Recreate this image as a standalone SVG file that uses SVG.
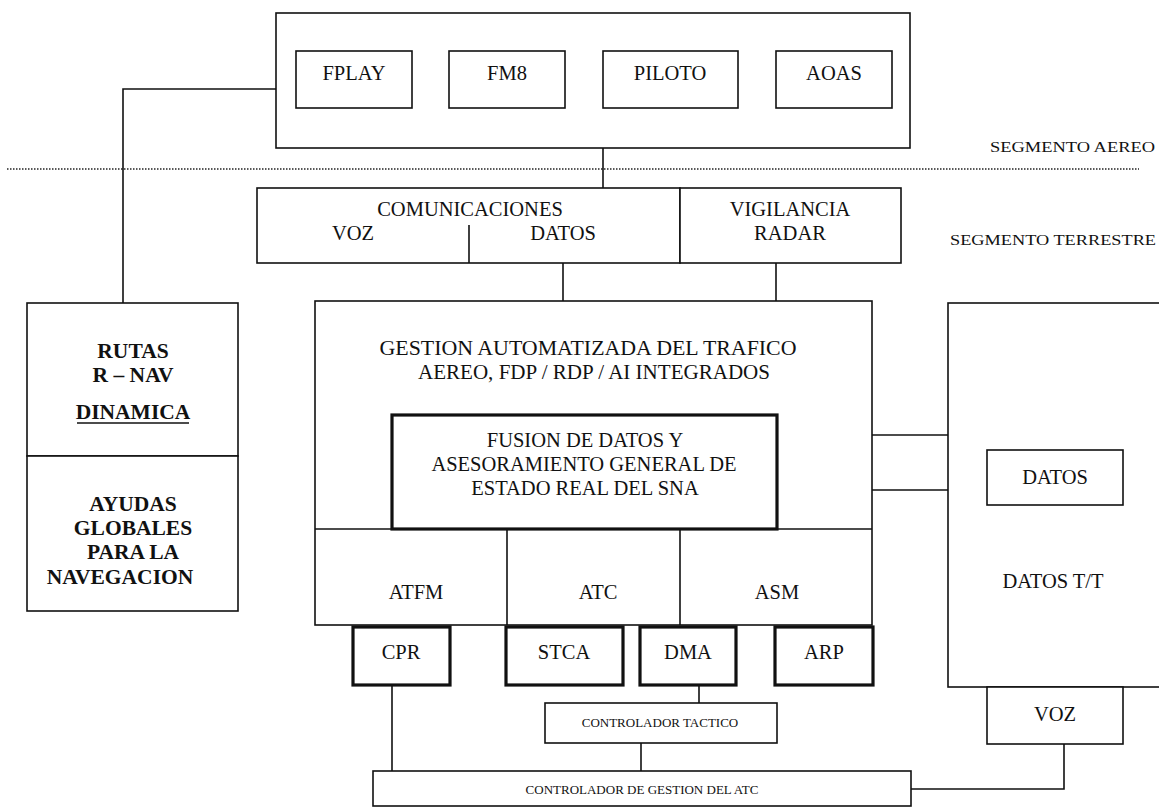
<svg xmlns="http://www.w3.org/2000/svg" width="1159" height="809" viewBox="0 0 1159 809">
<style>
.b{fill:#fff;stroke:#111;stroke-width:1.6}
.tk{fill:#fff;stroke:#111;stroke-width:3.2}
.l{fill:none;stroke:#111;stroke-width:1.6}
text{font-family:'Liberation Serif','DejaVu Serif',serif;fill:#111}
.t{font-size:20.5px;text-anchor:middle}
.tb{font-size:21.5px;font-weight:bold;text-anchor:middle}
.s{font-size:13px;text-anchor:middle}
.seg{font-size:15px}
</style>
<rect width="1159" height="809" fill="#fff"/>
<line x1="7" y1="169" x2="1139" y2="169" stroke="#222" stroke-width="1.6" stroke-dasharray="1.5,1.5"/>
<text class="seg" x="990" y="152" textLength="165" lengthAdjust="spacingAndGlyphs">SEGMENTO AEREO</text>
<text class="seg" x="950" y="245" textLength="206" lengthAdjust="spacingAndGlyphs">SEGMENTO TERRESTRE</text>
<g id="connectors">
<polyline class="l" points="276,89 123,89 123,303"/>
<line class="l" x1="412" y1="70" x2="449" y2="70"/>
<line class="l" x1="565" y1="70" x2="603" y2="70"/>
<line class="l" x1="738" y1="70" x2="776" y2="70"/>
<line class="l" x1="603" y1="148" x2="603" y2="188"/>
<line class="l" x1="563" y1="263" x2="563" y2="301"/>
<line class="l" x1="776" y1="263" x2="776" y2="301"/>
<line class="l" x1="872" y1="435" x2="948" y2="435"/>
<line class="l" x1="872" y1="490" x2="948" y2="490"/>
<line class="l" x1="392" y1="685" x2="392" y2="771"/>
<line class="l" x1="699" y1="685" x2="699" y2="703"/>
<line class="l" x1="641" y1="743" x2="641" y2="771"/>
<polyline class="l" points="911,789 1064,789 1064,744"/>
</g>
<g id="segmento-aereo">
<rect class="b" x="276" y="13" width="634" height="135"/>
</g>
<g id="fplay"><rect class="b" x="296" y="51" width="116" height="57"/><text class="t" x="354" y="80">FPLAY</text></g>
<g id="fm8"><rect class="b" x="449" y="51" width="116" height="57"/><text class="t" x="507" y="80">FM8</text></g>
<g id="piloto"><rect class="b" x="603" y="51" width="135" height="57"/><text class="t" x="670" y="80">PILOTO</text></g>
<g id="aoas"><rect class="b" x="776" y="51" width="116" height="57"/><text class="t" x="834" y="80">AOAS</text></g>
<g id="comunicaciones">
<rect class="b" x="257" y="188" width="423" height="75"/>
<line class="l" x1="469" y1="225" x2="469" y2="263"/>
<text class="t" x="470" y="216">COMUNICACIONES</text>
<text class="t" x="353" y="240">VOZ</text>
<text class="t" x="563" y="240">DATOS</text>
</g>
<g id="vigilancia">
<rect class="b" x="680" y="188" width="221" height="75"/>
<text class="t" x="790" y="216">VIGILANCIA</text>
<text class="t" x="790" y="240">RADAR</text>
</g>
<g id="rutas">
<rect class="b" x="27" y="303" width="211" height="153"/>
<text class="tb" x="133" y="358">RUTAS</text>
<text class="tb" x="133" y="382">R – NAV</text>
<text class="tb" x="133" y="419">DINAMICA</text>
<line x1="77" y1="423" x2="189" y2="423" stroke="#111" stroke-width="1.4"/>
</g>
<g id="ayudas">
<rect class="b" x="27" y="456" width="211" height="155"/>
<text class="tb" x="133" y="511">AYUDAS</text>
<text class="tb" x="133" y="535">GLOBALES</text>
<text class="tb" x="133" y="559">PARA LA</text>
<text class="tb" x="120" y="584">NAVEGACION</text>
</g>
<g id="gestion">
<rect class="b" x="315" y="301" width="557" height="324"/>
<text class="t" x="588" y="355" textLength="417" lengthAdjust="spacingAndGlyphs">GESTION AUTOMATIZADA DEL TRAFICO</text>
<text class="t" x="594" y="379" textLength="352" lengthAdjust="spacingAndGlyphs">AEREO, FDP / RDP / AI INTEGRADOS</text>
<line class="l" x1="315" y1="529" x2="872" y2="529"/>
<line class="l" x1="507" y1="529" x2="507" y2="625"/>
<line class="l" x1="680" y1="529" x2="680" y2="625"/>
</g>
<g id="fusion">
<rect class="tk" x="392" y="415" width="385" height="114"/>
<text class="t" x="585" y="447">FUSION DE DATOS Y</text>
<text class="t" x="584" y="471">ASESORAMIENTO GENERAL DE</text>
<text class="t" x="585" y="495">ESTADO REAL DEL SNA</text>
</g>
<g id="atfm"><text class="t" x="416" y="599">ATFM</text></g>
<g id="atc"><text class="t" x="598" y="599">ATC</text></g>
<g id="asm"><text class="t" x="777" y="599">ASM</text></g>
<g id="cpr"><rect class="tk" x="353" y="627" width="97" height="58"/><text class="t" x="401" y="659">CPR</text></g>
<g id="stca"><rect class="tk" x="506" y="627" width="117" height="58"/><text class="t" x="564" y="659">STCA</text></g>
<g id="dma"><rect class="tk" x="640" y="627" width="96" height="58"/><text class="t" x="688" y="659">DMA</text></g>
<g id="arp"><rect class="tk" x="775" y="627" width="98" height="58"/><text class="t" x="824" y="659">ARP</text></g>
<g id="controlador-tactico">
<rect class="b" x="545" y="703" width="232" height="40"/>
<text class="s" x="660" y="727">CONTROLADOR TACTICO</text>
</g>
<g id="controlador-gestion">
<rect class="b" x="373" y="771" width="538" height="35"/>
<text class="s" x="642" y="794">CONTROLADOR DE GESTION DEL ATC</text>
</g>
<g id="datos-tt">
<rect class="b" x="948" y="303" width="220" height="384"/>
<text class="t" x="1053" y="588">DATOS T/T</text>
</g>
<g id="datos"><rect class="b" x="987" y="450" width="136" height="55"/><text class="t" x="1055" y="484">DATOS</text></g>
<g id="voz"><rect class="b" x="987" y="687" width="136" height="57"/><text class="t" x="1055" y="721">VOZ</text></g>
</svg>
